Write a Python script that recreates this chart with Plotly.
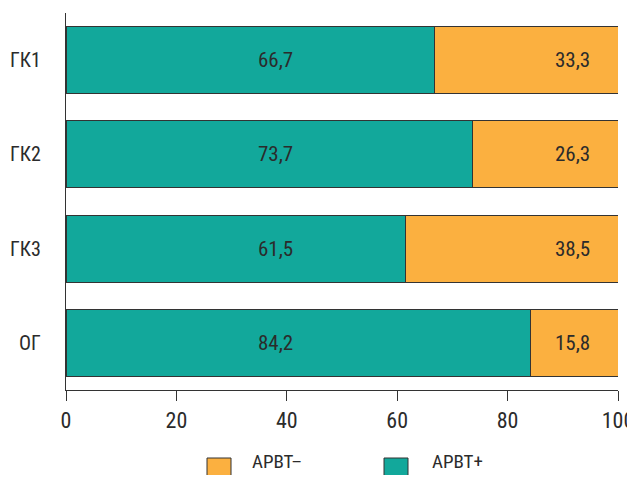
import plotly.graph_objects as go

categories = ["ГК1", "ГК2", "ГК3", "ОГ"]
arvt_plus = [66.7, 73.7, 61.5, 84.2]
arvt_minus = [33.3, 26.3, 38.5, 15.8]
series_names = ["АРВТ+", "АРВТ–"]
x_ticks = [0, 20, 40, 60, 80, 100]

TEAL = "#12a89b"
ORANGE = "#fbb040"
EDGE = "#333333"
TXT = "#2b2b2b"
FONT = "Liberation Sans Narrow, Roboto Condensed, DejaVu Sans Condensed, Arial Narrow, sans-serif"

OFF = 8  # page body offset in the browser
W, H = 627, 467
ML, MT = 66 - OFF, 13 - OFF
MR = W - (618 - OFF)
MB = H - (390 - OFF)
PW, PH = W - ML - MR, H - MT - MB

def fmt(v):
    return f"{v:.1f}".replace(".", ",")

fig = go.Figure()
fig.add_trace(go.Bar(y=categories, x=arvt_plus, orientation="h", name=series_names[0],
                     marker=dict(color=TEAL, line=dict(color=EDGE, width=1)), showlegend=False))
fig.add_trace(go.Bar(y=categories, x=arvt_minus, orientation="h", name=series_names[1],
                     marker=dict(color=ORANGE, line=dict(color=EDGE, width=1)), showlegend=False))

annotations = []
for c, p, m in zip(categories, arvt_plus, arvt_minus):
    annotations.append(dict(x=37.9, y=c, xref="x", yref="y", text=fmt(p), showarrow=False,
                            font=dict(family=FONT, size=21, color=TXT)))
    annotations.append(dict(x=91.7, y=c, xref="x", yref="y", text=fmt(m), showarrow=False,
                            font=dict(family=FONT, size=21, color=TXT)))

def px_x(p):
    return (p - OFF - ML) / PW

def px_y(p):
    return (MT + PH - (p - OFF)) / PH

shapes = []
legend_items = [(series_names[1], ORANGE, 207, 250), (series_names[0], TEAL, 384, 430)]
for name, col, bx, tx in legend_items:
    shapes.append(dict(type="rect", xref="paper", yref="paper",
                       x0=px_x(bx), x1=px_x(bx + 24), y0=px_y(458), y1=px_y(484),
                       fillcolor=col, line=dict(color=EDGE, width=1)))
    annotations.append(dict(x=px_x(tx), y=px_y(461), xref="paper", yref="paper", text=name,
                            showarrow=False, xanchor="left", yanchor="middle",
                            font=dict(family=FONT, size=19, color=TXT)))

fig.update_layout(
    width=W, height=H,
    margin=dict(l=ML, r=MR, t=MT, b=MB, autoexpand=False),
    barmode="stack", bargap=0.29,
    plot_bgcolor="white", paper_bgcolor="white",
    font=dict(family=FONT, size=21, color=TXT),
    annotations=annotations, shapes=shapes,
    xaxis=dict(range=[0, 100], tickvals=x_ticks, showgrid=False, zeroline=False, automargin=False,
               showline=True, linecolor=EDGE, linewidth=1.2, ticks="outside", ticklen=10,
               ticklabeloverflow="allow",
               tickcolor=EDGE, tickwidth=1.2, tickfont=dict(family=FONT, size=22, color=TXT)),
    yaxis=dict(categoryorder="array", categoryarray=categories, autorange="reversed", automargin=False,
               showgrid=False, zeroline=False, showline=True, linecolor=EDGE, linewidth=1.2,
               ticks="", ticklabelstandoff=20, tickfont=dict(family=FONT, size=20, color=TXT)),
)

fig.write_html("out.html")
